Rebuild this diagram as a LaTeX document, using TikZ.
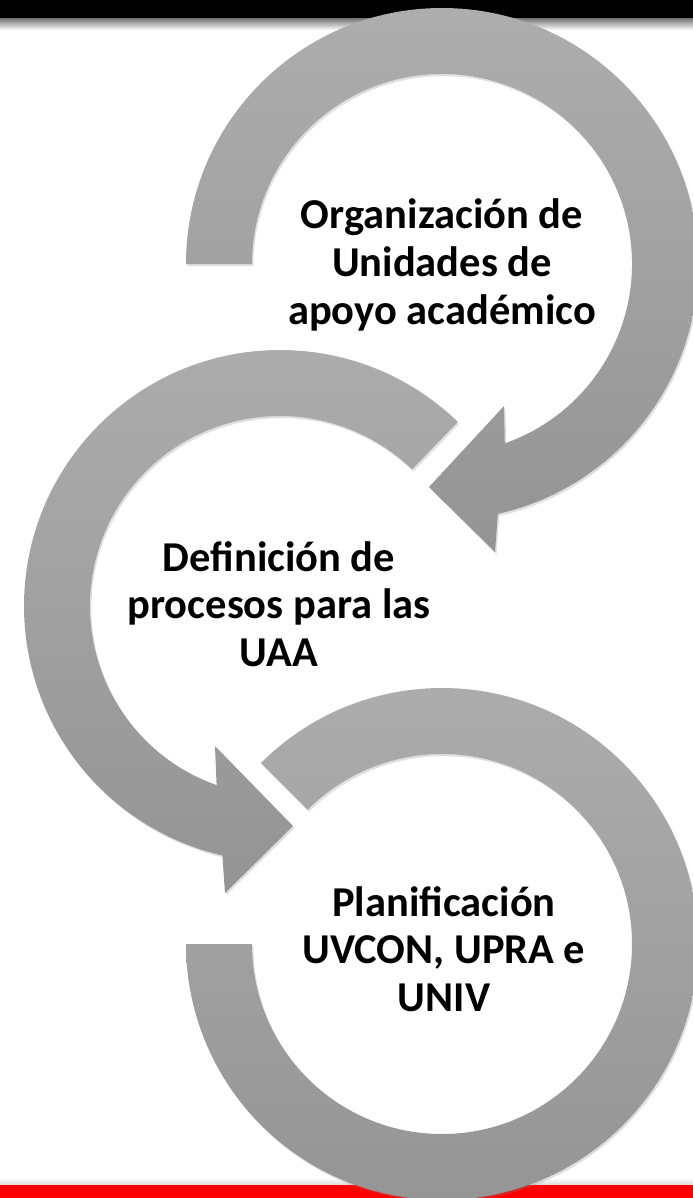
\documentclass[tikz,border=0pt]{standalone}
\usepackage{fontspec}
\setmainfont{Carlito}
\usetikzlibrary{calc,shadows}
\definecolor{grisclaro}{rgb}{0.68,0.68,0.68}
\definecolor{grisoscuro}{rgb}{0.58,0.58,0.58}
\definecolor{rojo}{rgb}{1,0,0}

\begin{document}
\begin{tikzpicture}[line cap=round,line join=round,x=0.02cm,y=0.02cm,
	anillo/.style={top color=grisclaro,bottom color=grisoscuro,
		drop shadow={shadow xshift=0.8pt,shadow yshift=-1.2pt,opacity=0.25}},
	rotulo/.style={align=center,font=\fontsize{24.2}{27.2}\selectfont\bfseries}]
	\useasboundingbox (0,0) rectangle (693,-1198);
	% barras
	\shade [top color=black!55,bottom color=white] (0,-18) rectangle (693,-30);
	\fill [black] (0,0) rectangle (693,-18);
	\shade [top color=white,bottom color=black!15] (0,-1178) rectangle (693,-1185);
	\fill [rojo] (0,-1185) rectangle (693,-1198);
	\coordinate (c1) at (442,-264);
	\coordinate (c2) at (280,-606);
	\coordinate (c3) at (442,-944);
	% anillo 1
	\path [anillo] ($(c1)+(180:256)$) arc[start angle=180,end angle=-77.4,radius=256]
		-- (495,-552) -- (429,-487) -- (504,-406)
		-- ($(c1)+(-70.7:190)$) arc[start angle=-70.7,end angle=180,radius=190] -- cycle;
	% anillo 2
	\path [anillo] ($(c2)+(46:256)$) arc[start angle=46,end angle=257,radius=256]
		-- (225,-893) -- (293,-826) -- (215,-746)
		-- ($(c2)+(250.5:190)$) arc[start angle=250.5,end angle=46,radius=190] -- cycle;
	% anillo 3
	\path [anillo] ($(c3)+(135:256)$) arc[start angle=135,end angle=-180,radius=256]
		-- ($(c3)+(180:190)$) arc[start angle=-180,end angle=135,radius=190] -- cycle;

	\node [rotulo] (org) at (442,-265) {Organización de\\Unidades de\\apoyo académico};
	\node [rotulo] (def) at (279,-604) {Definición de\\procesos para las\\UAA};
	\node [rotulo] (pla) at (444,-949) {Planificación\\UVCON, UPRA e\\UNIV};
\end{tikzpicture}
\end{document}
